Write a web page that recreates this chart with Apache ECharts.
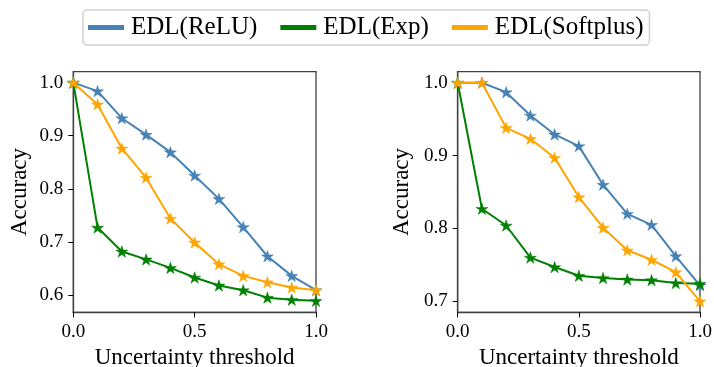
<!DOCTYPE html>
<html><head><meta charset="utf-8">
<script src="https://cdn.jsdelivr.net/npm/echarts@6/dist/echarts.min.js"></script>
<style>html,body{margin:0;padding:0;background:#fff}#c{width:714px;height:367px}</style>
</head><body><div id="c"></div>
<script>
const thresholds = [0, 0.1, 0.2, 0.3, 0.4, 0.5, 0.6, 0.7, 0.8, 0.9, 1.0];
const seriesNames = ['EDL(ReLU)', 'EDL(Exp)', 'EDL(Softplus)'];
const leftReLU     = [1.0, 0.984, 0.933, 0.902, 0.869, 0.825, 0.781, 0.728, 0.673, 0.636, 0.609];
const leftExp      = [1.0, 0.727, 0.682, 0.667, 0.651, 0.633, 0.618, 0.609, 0.595, 0.591, 0.589];
const leftSoftplus = [1.0, 0.959, 0.876, 0.821, 0.744, 0.699, 0.658, 0.636, 0.624, 0.614, 0.609];
const rightReLU     = [1.0, 1.0, 0.987, 0.955, 0.929, 0.913, 0.860, 0.820, 0.805, 0.762, 0.722];
const rightExp      = [1.0, 0.827, 0.804, 0.760, 0.747, 0.735, 0.732, 0.730, 0.729, 0.725, 0.724];
const rightSoftplus = [1.0, 1.0, 0.938, 0.923, 0.897, 0.843, 0.801, 0.770, 0.757, 0.740, 0.700];
const xTicks = [0, 0.5, 1.0];
const leftYTicks = [0.6, 0.7, 0.8, 0.9, 1.0];
const rightYTicks = [0.7, 0.8, 0.9, 1.0];
const colors = ['#4682B4', '#008000', '#FFA500'];

const STAR = 'path://M0,-10 L2.245,-3.09 L9.511,-3.09 L3.633,1.18 L5.878,8.09 L0,3.82 L-5.878,8.09 L-3.633,1.18 L-9.511,-3.09 L-2.245,-3.09 Z';
const FONT = 'Liberation Serif';
const axisLineStyle = {color: '#404040', width: 1.3};

function pairs(ys){ return thresholds.map((x,i)=>[x, ys[i]]); }
function lbl(ticks, margin){
  return {show: true, fontFamily: FONT, fontSize: 19, color: '#000', customValues: ticks, margin: margin,
    formatter: v => Number(v).toFixed(1)};
}

function xAxis(gi){
  return {
    type: 'value', gridIndex: gi, min: 0, max: 1, interval: 0.5,
    name: 'Uncertainty threshold', nameLocation: 'middle', nameGap: 32,
    nameTextStyle: {fontFamily: FONT, fontSize: 23, color: '#000'},
    axisLine: {show: true, onZero: false, lineStyle: axisLineStyle},
    axisTick: {show: true, length: 5, lineStyle: {color: '#000', width: 1}, customValues: xTicks},
    axisLabel: lbl(xTicks, 10),
    splitLine: {show: false}
  };
}
function yAxis(gi, min, max, ticks, gap){
  return {
    type: 'value', gridIndex: gi, min: min, max: max,
    name: 'Accuracy', nameLocation: 'middle', nameGap: gap, nameRotate: 90,
    nameTextStyle: {fontFamily: FONT, fontSize: 23, color: '#000'},
    axisLine: {show: true, onZero: false, lineStyle: axisLineStyle},
    axisTick: {show: true, length: 5, lineStyle: {color: '#000', width: 1}, customValues: ticks},
    axisLabel: lbl(ticks, 10),
    splitLine: {show: false}
  };
}
function line(name, data, gi, ci){
  return {
    type: 'line', name: name, xAxisIndex: gi, yAxisIndex: gi, data: pairs(data),
    symbol: STAR, symbolSize: 12, symbolKeepAspect: true, showAllSymbol: true,
    lineStyle: {color: colors[ci], width: 2},
    itemStyle: {color: colors[ci], borderColor: colors[ci], borderWidth: 0.5},
    emphasis: {disabled: true}, clip: true, z: 2 + ci
  };
}

const gridBase = {top: 71.7, height: 240.6, show: true, borderColor: '#404040', borderWidth: 1.3,
  backgroundColor: 'transparent', containLabel: false, outerBoundsMode: 'none'};

const chart = echarts.init(document.getElementById('c'), null, {renderer: 'canvas'});
chart.setOption({
  animation: false,
  backgroundColor: '#fff',
  textStyle: {fontFamily: FONT, color: '#000'},
  legend: {
    left: 83, top: 10, padding: [5, 6, 5, 5],
    backgroundColor: '#fff', borderColor: '#d0d0d0', borderWidth: 1.5, borderRadius: 4,
    itemWidth: 34, itemHeight: 3, itemGap: 23,
    textStyle: {fontFamily: FONT, fontSize: 25, color: '#000', padding: [0, 0, 0, 3]},
    data: seriesNames.map((n,i)=>({name: n, icon: 'rect', itemStyle: {color: colors[i]}}))
  },
  grid: [
    Object.assign({left: 73.3, width: 242.7}, gridBase),
    Object.assign({left: 457.7, width: 242.3}, gridBase)
  ],
  xAxis: [xAxis(0), xAxis(1)],
  yAxis: [yAxis(0, 0.5674, 1.0206, leftYTicks, 42), yAxis(1, 0.6849, 1.0151, rightYTicks, 44)],
  series: [
    line(seriesNames[0], leftReLU, 0, 0),
    line(seriesNames[1], leftExp, 0, 1),
    line(seriesNames[2], leftSoftplus, 0, 2),
    line(seriesNames[0], rightReLU, 1, 0),
    line(seriesNames[1], rightExp, 1, 1),
    line(seriesNames[2], rightSoftplus, 1, 2)
  ]
});
</script></body></html>
